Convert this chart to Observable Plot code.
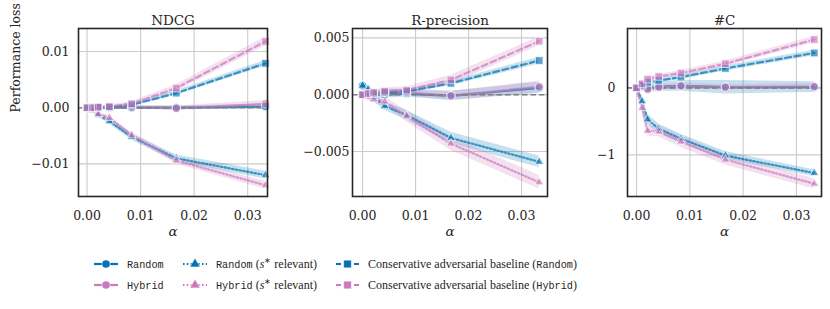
<!DOCTYPE html>
<html>
<head>
<meta charset="utf-8">
<script src="https://cdn.jsdelivr.net/npm/d3@7"></script>
<script src="https://cdn.jsdelivr.net/npm/@observablehq/plot@0.6"></script>
<style>
  html, body { margin: 0; padding: 0; background: #fff; }
  #root { position: relative; width: 830px; height: 309px; overflow: hidden; font-family: "DejaVu Serif", serif; color: #262626; }
  .panel { position: absolute; top: 0; }
  #legend { position: absolute; left: 0; top: 0; width: 830px; height: 309px; pointer-events: none; }
  .item { position: absolute; display: flex; align-items: center; height: 16px; font-family: "Liberation Serif", serif; font-size: 12px; white-space: nowrap; color: #262626; }
  .item svg { margin-right: 9px; }
  .tt { font-family: "Liberation Mono", "DejaVu Sans Mono", monospace; font-size: 10.2px; }
</style>
</head>
<body>
<div id="root"></div>
<script>
// ---- data ----
const alphas = [0, 0.00104, 0.00208, 0.00417, 0.00833, 0.01667, 0.03333];
const xTicks = [0, 0.01, 0.02, 0.03];

const panelTitles = ["NDCG", "R-precision", "#C"];
const yTicksNDCG = [-0.01, 0, 0.01];
const yTicksRP = [-0.005, 0, 0.005];
const yTicksC = [-1, 0];

// NDCG
const ndcgRandom      = [0, 0.0000, -0.0001, 0.0000, 0.0000, 0.0000, 0.0002];
const ndcgHybrid      = [0, 0.0000, 0.0001, 0.0001, 0.0001, -0.0001, 0.0007];
const ndcgRandomS     = [0, -0.0005, -0.0013, -0.0024, -0.0052, -0.0090, -0.0120];
const ndcgHybridS     = [0, -0.0004, -0.0011, -0.0018, -0.0049, -0.0094, -0.0138];
const ndcgRandomCAB   = [0, 0.0000, 0.0001, 0.0001, 0.0005, 0.0026, 0.0079];
const ndcgHybridCAB   = [0, 0.0000, 0.0001, 0.0002, 0.0007, 0.0035, 0.0118];
const ndcgRandomCI    = [0.0002, 0.0002, 0.0002, 0.0002, 0.0003, 0.0003, 0.0004];
const ndcgHybridCI    = [0.0002, 0.0002, 0.0002, 0.0003, 0.0003, 0.0004, 0.0006];
const ndcgRandomSCI   = [0.0002, 0.0003, 0.0004, 0.0005, 0.0006, 0.0006, 0.0007];
const ndcgHybridSCI   = [0.0002, 0.0003, 0.0003, 0.0004, 0.0005, 0.0006, 0.0007];
const ndcgRandomCABCI = [0.0001, 0.0001, 0.0002, 0.0002, 0.0003, 0.0004, 0.0005];
const ndcgHybridCABCI = [0.0001, 0.0002, 0.0002, 0.0003, 0.0004, 0.0006, 0.0008];

// R-precision
const rpRandom      = [0.0008, 0.0003, 0.0001, 0.0000, 0.0001, -0.0001, 0.0006];
const rpHybrid      = [0.0000, 0.0001, 0.0001, 0.0002, 0.0002, -0.0001, 0.0007];
const rpRandomS     = [0.0008, 0.0005, -0.0002, -0.0010, -0.0018, -0.0038, -0.0059];
const rpHybridS     = [-0.0001, -0.0002, -0.0004, -0.0006, -0.0019, -0.0043, -0.0077];
const rpRandomCAB   = [0.0000, 0.0001, 0.0001, 0.0002, 0.0003, 0.0010, 0.0030];
const rpHybridCAB   = [0.0000, 0.0001, 0.0002, 0.0003, 0.0004, 0.0013, 0.0047];
const rpRandomCI    = [0.0002, 0.0002, 0.0002, 0.0003, 0.0003, 0.0004, 0.0005];
const rpHybridCI    = [0.0002, 0.0002, 0.0003, 0.0003, 0.0003, 0.0004, 0.0005];
const rpRandomSCI   = [0.0002, 0.0003, 0.0004, 0.0004, 0.0004, 0.0005, 0.0005];
const rpHybridSCI   = [0.0002, 0.0003, 0.0003, 0.0004, 0.0005, 0.0006, 0.0006];
const rpRandomCABCI = [0.0001, 0.0001, 0.0001, 0.0002, 0.0002, 0.0002, 0.0003];
const rpHybridCABCI = [0.0001, 0.0002, 0.0002, 0.0003, 0.0003, 0.0004, 0.0004];

// #C
const cRandom      = [0, 0.03, -0.01, 0.02, 0.03, 0.01, 0.01];
const cHybrid      = [0, 0.02, -0.02, 0.01, 0.03, 0.01, 0.02];
const cRandomS     = [0, -0.20, -0.47, -0.61, -0.76, -1.01, -1.27];
const cHybridS     = [-0.02, -0.30, -0.64, -0.65, -0.80, -1.07, -1.43];
const cRandomCAB   = [0, 0.04, 0.08, 0.11, 0.16, 0.29, 0.52];
const cHybridCAB   = [0, 0.06, 0.13, 0.17, 0.22, 0.36, 0.72];
const cRandomCI    = [0.04, 0.05, 0.06, 0.07, 0.08, 0.10, 0.08];
const cHybridCI    = [0.03, 0.03, 0.04, 0.04, 0.04, 0.04, 0.04];
const cRandomSCI   = [0.04, 0.08, 0.08, 0.07, 0.07, 0.06, 0.05];
const cHybridSCI   = [0.04, 0.08, 0.08, 0.08, 0.09, 0.08, 0.08];
const cRandomCABCI = [0.02, 0.03, 0.03, 0.03, 0.03, 0.04, 0.04];
const cHybridCABCI = [0.02, 0.03, 0.03, 0.03, 0.04, 0.04, 0.05];

// ---- styles ----
const BLUE = "#0173b2", PINK = "#cc78bc";
const seriesStyle = [
  {key: "random",    color: BLUE, symbol: "circle",   r: 4.2, dash: null,      legend: '<span class="tt">Random</span>'},
  {key: "hybrid",    color: PINK, symbol: "circle",   r: 4.2, dash: null,      legend: '<span class="tt">Hybrid</span>'},
  {key: "randomS",   color: BLUE, symbol: "triangle", r: 3.3, dash: "1.5,2.3", legend: '<span class="tt">Random</span>&nbsp;(<i>s</i><sup style="font-size:8px">∗</sup> relevant)'},
  {key: "hybridS",   color: PINK, symbol: "triangle", r: 3.3, dash: "1.5,2.3", legend: '<span class="tt">Hybrid</span>&nbsp;(<i>s</i><sup style="font-size:8px">∗</sup> relevant)'},
  {key: "randomCAB", color: BLUE, symbol: "square",   r: 4.3, dash: "6,3.5",   legend: 'Conservative adversarial baseline (<span class="tt">Random</span>)'},
  {key: "hybridCAB", color: PINK, symbol: "square",   r: 4.3, dash: "6,3.5",   legend: 'Conservative adversarial baseline (<span class="tt">Hybrid</span>)'}
];

const panels = [
  {title: panelTitles[0], left: 0,   width: 280, mLeft: 78, mRight: 13, xDomain: [-0.0016, 0.0337], yDomain: [-0.0158, 0.0141], yTicks: yTicksNDCG, yFmt: ".2f", yPad: 9, ylabel: true,
   vals: [ndcgRandom, ndcgHybrid, ndcgRandomS, ndcgHybridS, ndcgRandomCAB, ndcgHybridCAB],
   cis:  [ndcgRandomCI, ndcgHybridCI, ndcgRandomSCI, ndcgHybridSCI, ndcgRandomCABCI, ndcgHybridCABCI]},
  {title: panelTitles[1], left: 280, width: 275, mLeft: 72, mRight: 8, xDomain: [-0.0019, 0.0349], yDomain: [-0.00895, 0.00582], yTicks: yTicksRP, yFmt: ".3f", yPad: 3, ylabel: false,
   vals: [rpRandom, rpHybrid, rpRandomS, rpHybridS, rpRandomCAB, rpHybridCAB],
   cis:  [rpRandomCI, rpHybridCI, rpRandomSCI, rpHybridSCI, rpRandomCABCI, rpHybridCABCI]},
  {title: panelTitles[2], left: 555, width: 275, mLeft: 72, mRight: 9, xDomain: [-0.0017, 0.0347], yDomain: [-1.62, 0.885], yTicks: yTicksC, yFmt: "d", yPad: 12, ylabel: false,
   vals: [cRandom, cHybrid, cRandomS, cHybridS, cRandomCAB, cHybridCAB],
   cis:  [cRandomCI, cHybridCI, cRandomSCI, cHybridSCI, cRandomCABCI, cHybridCABCI]}
];

const root = document.getElementById("root");
const H = 245, mTop = 28, mBottom = 49;

for (const p of panels) {
  const seriesRows = seriesStyle.map((s, i) =>
    alphas.map((a, j) => ({alpha: a, v: p.vals[i][j], lo: p.vals[i][j] - p.cis[i][j], hi: p.vals[i][j] + p.cis[i][j]})));

  const marks = [
    Plot.gridX(xTicks, {stroke: "#cccccc", strokeOpacity: 1, strokeWidth: 1.1}),
    Plot.gridY(p.yTicks, {stroke: "#cccccc", strokeOpacity: 1, strokeWidth: 1.1}),
    Plot.axisX(xTicks, {tickSize: 0, tickPadding: 15, tickFormat: d3.format(".2f"), label: null, fontSize: 12.5, fill: "#262626"}),
    Plot.axisY(p.yTicks, {tickSize: 0, tickPadding: p.yPad, tickFormat: d3.format(p.yFmt), label: null, fontSize: 12.5, fill: "#262626"})
  ];
  seriesStyle.forEach((s, i) => {
    marks.push(Plot.areaY(seriesRows[i], {x: "alpha", y1: "lo", y2: "hi", fill: s.color, fillOpacity: 0.22}));
  });
  seriesStyle.forEach((s, i) => {
    marks.push(Plot.line(seriesRows[i], {x: "alpha", y: "v", stroke: s.color, strokeWidth: 2.2, strokeOpacity: 0.72, strokeDasharray: s.dash}));
  });
  marks.push(Plot.ruleY([0], {stroke: "#7f7f7f", strokeWidth: 1.6, strokeDasharray: "5.5,3"}));
  seriesStyle.forEach((s, i) => {
    marks.push(Plot.dot(seriesRows[i], {x: "alpha", y: "v", symbol: s.symbol, r: s.r, fill: s.color, fillOpacity: 0.65, stroke: "white", strokeWidth: 0.7}));
  });
  marks.push(Plot.frame({stroke: "#262626", strokeWidth: 1.6}));
  marks.push(Plot.text([p.title], {frameAnchor: "top", text: d => d, dy: -13, fontSize: 13.5, fill: "#262626"}));
  marks.push(Plot.text(["α"], {frameAnchor: "bottom", text: d => d, dy: 39, fontSize: 13.5, fontStyle: "italic", fill: "#262626"}));
  if (p.ylabel) marks.push(Plot.text(["Performance loss"], {frameAnchor: "left", text: d => d, rotate: -90, dx: -63, fontSize: 12.5, fill: "#262626"}));

  const chart = Plot.plot({
    width: p.width, height: H,
    marginLeft: p.mLeft, marginRight: p.mRight, marginTop: mTop, marginBottom: mBottom,
    x: {domain: p.xDomain},
    y: {domain: p.yDomain},
    style: {fontFamily: "DejaVu Serif, serif", fontSize: "12.5px", background: "transparent", overflow: "visible"},
    marks
  });
  chart.classList.add("panel");
  chart.style.left = p.left + "px";
  root.appendChild(chart);
}

// ---- legend ----
const legend = document.createElement("div");
legend.id = "legend";
const legendCols = [94, 183, 336];
const legendRows = [264, 285];
const legendSampleW = [24, 24, 23];
seriesStyle.forEach((s, i) => {
  const col = Math.floor(i / 2), row = i % 2;
  const item = document.createElement("div");
  item.className = "item";
  item.style.left = legendCols[col] + "px";
  item.style.top = (legendRows[row] - 8) + "px";
  const w = legendSampleW[col];
  const symType = s.symbol === "circle" ? d3.symbolCircle : s.symbol === "triangle" ? d3.symbolTriangle : d3.symbolSquare;
  const sym = d3.symbol(symType, s.symbol === "square" ? 60 : s.symbol === "triangle" ? 46 : 52)();
  const dash = col === 2 ? 'stroke-dasharray="5,13"' : (col === 1 ? 'stroke-dasharray="1.5,2.3"' : "");
  item.innerHTML = `<svg width="${w}" height="14" style="overflow:visible"><line x1="0" x2="${w}" y1="7" y2="7" stroke="${s.color}" stroke-width="2.2" ${dash}/><path d="${sym}" transform="translate(${w / 2},7)" fill="${s.color}" stroke="white" stroke-width="0.6"/></svg><span>${s.legend}</span>`;
  legend.appendChild(item);
});
root.appendChild(legend);
</script>
</body>
</html>
